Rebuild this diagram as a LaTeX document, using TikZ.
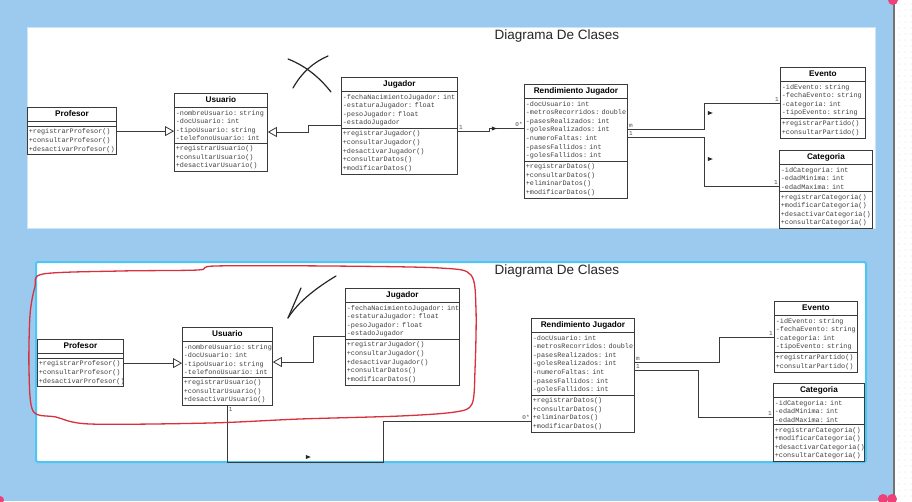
\documentclass[tikz,border=0pt]{standalone}
\usepackage{fontspec}
\setmainfont{Liberation Sans}
\setsansfont{Liberation Sans}
\setmonofont{Liberation Mono}
\usetikzlibrary{shapes.multipart,shapes.geometric,arrows.meta,calc}

\definecolor{bgblue}{HTML}{9CC9EE}
\definecolor{paneledge}{HTML}{CFE5F7}
\definecolor{cyanedge}{HTML}{4CC6F2}
\definecolor{redink}{HTML}{D8303C}
\definecolor{pinkmark}{HTML}{F0407A}
\definecolor{umlgray}{HTML}{3A3A3A}

\tikzset{
  umlclass/.style={rectangle split, rectangle split parts=3, draw=umlgray, line width=0.8pt,
    fill=white, anchor=north west, inner xsep=1.5pt, inner ysep=2pt, align=left,
    font=\fontsize{6.8}{8.6}\selectfont\ttfamily, text=black!75},
  gen/.style={draw=umlgray, line width=0.8pt, -{Triangle[open,length=9pt,width=10pt,fill=white]}},
  assoc/.style={draw=umlgray, line width=0.8pt},
  mult/.style={font=\fontsize{6}{6}\selectfont\ttfamily, inner sep=1pt, text=black!70},
  dirmark/.style={isosceles triangle, fill=black!85, inner sep=1.1pt},
  diagtitle/.style={font=\fontsize{13.5}{14}\selectfont, text=black!85},
  ink/.style={line width=1.2pt, line cap=round, draw=black!85},
  redloop/.style={line width=1.3pt, draw=redink, line cap=round}
}

% header of a class box
\newcommand{\umlhead}[1]{{\centering\fontsize{8.2}{10}\selectfont\sffamily\bfseries\color{black}\rule[-2.5pt]{0pt}{9.5pt}#1\par}}

% class contents
\newcommand{\profesorOps}{+registrarProfesor()\\+consultarProfesor()\\+desactivarProfesor()}
\newcommand{\usuarioAttrs}{-nombreUsuario:~string\\-docUsuario:~int\\-tipoUsuario:~string\\-telefonoUsuario:~int}
\newcommand{\usuarioOps}{+registrarUsuario()\\+consultarUsuario()\\+desactivarUsuario()}
\newcommand{\jugadorAttrs}{-fechaNacimientoJugador:~int\\-estaturaJugador:~float\\-pesoJugador:~float\\-estadoJugador}
\newcommand{\jugadorOps}{+registrarJugador()\\+consultarJugador()\\+desactivarJugador()\\+consultarDatos()\\+modificarDatos()}
\newcommand{\rendAttrs}{-docUsuario:~int\\-metrosRecorridos:~double\\-pasesRealizados:~int\\-golesRealizados:~int\\-numeroFaltas:~int\\-pasesFallidos:~int\\-golesFallidos:~int}
\newcommand{\rendOps}{+registrarDatos()\\+consultarDatos()\\+eliminarDatos()\\+modificarDatos()}
\newcommand{\eventoAttrs}{-idEvento:~string\\-fechaEvento:~string\\-categoria:~int\\-tipoEvento:~string}
\newcommand{\eventoOps}{+registrarPartido()\\+consultarPartido()}
\newcommand{\categoriaAttrs}{-idCategoria:~int\\-edadMinima:~int\\-edadMaxima:~int}
\newcommand{\categoriaOps}{+registrarCategoria()\\+modificarCategoria()\\+desactivarCategoria()\\+consultarCategoria()}

\begin{document}
\begin{tikzpicture}[x=1pt,y=-1pt]
\useasboundingbox (0,0) rectangle (912,501);

% background, side strip and markers
\fill[white] (0,0) rectangle (912,501);
\fill[bgblue] (0,0) rectangle (893,501);
\foreach \dx in {899,905,911} {
  \foreach \dy in {4,10,...,500} {\fill[black!18] (\dx,\dy) circle (0.5pt);}
}
\draw[black!55, line width=1.5pt] (894,0) -- (894,501);
\fill[pinkmark] (893,0) circle (5pt);
\fill[pinkmark] (883,499) circle (5pt);
\fill[pinkmark] (892,499) circle (5pt);
\fill[pinkmark] (0,500) circle (4pt);

% the two panels
\draw[fill=white, draw=paneledge, line width=1pt] (27,27) rectangle (875,228);
\draw[fill=white, draw=cyanedge, line width=2pt, rounded corners=2pt] (36,262) rectangle (866,462);

\node[diagtitle] (ttitle) at (557,36) {Diagrama De Clases};
\node[diagtitle] (btitle) at (557,271) {Diagrama De Clases};

%%%%% top diagram
\node[umlclass, text width=86.2pt] (tprof) at (27,107) {\umlhead{Profesor}\nodepart{two}\nodepart{three}\profesorOps};
\node[umlclass, text width=90pt] (tusu) at (174,93) {\umlhead{Usuario}\nodepart{two}\usuarioAttrs\nodepart{three}\usuarioOps};
\node[umlclass, text width=113pt] (tjug) at (341,77) {\umlhead{Jugador}\nodepart{two}\jugadorAttrs\nodepart{three}\jugadorOps};
\node[umlclass, text width=100pt] (trend) at (524,84) {\umlhead{Rendimiento Jugador}\nodepart{two}\rendAttrs\nodepart{three}\rendOps};
\node[umlclass, text width=82pt] (teve) at (780,67) {\umlhead{Evento}\nodepart{two}\eventoAttrs\nodepart{three}\eventoOps};
\node[umlclass, text width=90pt] (tcat) at (779,150) {\umlhead{Categoria}\nodepart{two}\categoriaAttrs\nodepart{three}\categoriaOps};

\draw[gen] (tprof.east) -- (tprof.east -| tusu.west);
\draw[gen] (tjug.west) -- ++(-33,0) |- ($(tusu.north east)+(0,39)$);
\draw[assoc] ($(tjug.north east)+(0,54)$) node[mult, above right] {1} -- ++(32,0)
  |- ($(trend.north west)+(0,44)$) node[mult, above left] {0*};
\draw[assoc] ($(trend.north east)+(0,45)$) node[mult, above right] {m} -- ++(77,0)
  |- ($(teve.north west)+(0,36)$) node[mult, above left] {1};
\draw[assoc] ($(trend.north east)+(0,53)$) node[mult, above right] {1} -- ++(77,0)
  |- ($(tcat.north west)+(0,36)$) node[mult, above left] {1};
\node[dirmark] (tdir1) at (493,128.5) {};
\node[dirmark] (tdir2) at (709,113) {};
\node[dirmark] (tdir3) at (709,159) {};

% crossed out
\draw[ink] (293,88) .. controls (302,72) and (314,62) .. (328,56);
\draw[ink] (288,59) .. controls (306,66) and (320,78) .. (331,92);

%%%%% bottom diagram
\node[umlclass, text width=83pt] (bprof) at (37,339) {\umlhead{Profesor}\nodepart{two}\nodepart{three}\profesorOps};
\node[umlclass, text width=87pt] (busu) at (182,327) {\umlhead{Usuario}\nodepart{two}\usuarioAttrs\nodepart{three}\usuarioOps};
\node[umlclass, text width=111pt] (bjug) at (345,288) {\umlhead{Jugador}\nodepart{two}\jugadorAttrs\nodepart{three}\jugadorOps};
\node[umlclass, text width=100pt] (brend) at (531,318) {\umlhead{Rendimiento Jugador}\nodepart{two}\rendAttrs\nodepart{three}\rendOps};
\node[umlclass, text width=80pt] (beve) at (774,301) {\umlhead{Evento}\nodepart{two}\eventoAttrs\nodepart{three}\eventoOps};
\node[umlclass, text width=88pt] (bcat) at (773,383) {\umlhead{Categoria}\nodepart{two}\categoriaAttrs\nodepart{three}\categoriaOps};

\coordinate (bcorner) at (383,462);
\draw[gen] (bprof.east) -- (bprof.east -| busu.west);
\draw[gen] (bjug.west) -- ++(-32,0) |- ($(busu.north east)+(0,35)$);
\draw[assoc] (busu.south) node[mult, below right] {1} |- (bcorner)
  |- ($(brend.north west)+(0,103)$) node[mult, above left] {0*};
\draw[assoc] ($(brend.north east)+(0,44)$) node[mult, above right] {m} -- ++(85,0)
  |- ($(beve.north west)+(0,36)$) node[mult, above left] {1};
\draw[assoc] ($(brend.north east)+(0,52)$) node[mult, above right] {1} -- ++(64,0)
  |- ($(bcat.north west)+(0,34)$) node[mult, above left] {1};
\node[dirmark] (bdir1) at (307,457) {};

% marked part
\draw[redloop] plot[smooth cycle] coordinates {(43,274) (120,271) (198,270) (215,266) (330,266)
  (440,268) (471,275) (476,310) (475,370) (472,404) (455,412) (400,416) (300,419) (210,423)
  (90,424) (56,417) (33,411) (29,370) (30,315) (35,287)};
\draw[ink] (336,276) .. controls (316,288) and (298,302) .. (288,318);
\draw[ink] (301,288) -- (288,318);

\end{tikzpicture}
\end{document}
